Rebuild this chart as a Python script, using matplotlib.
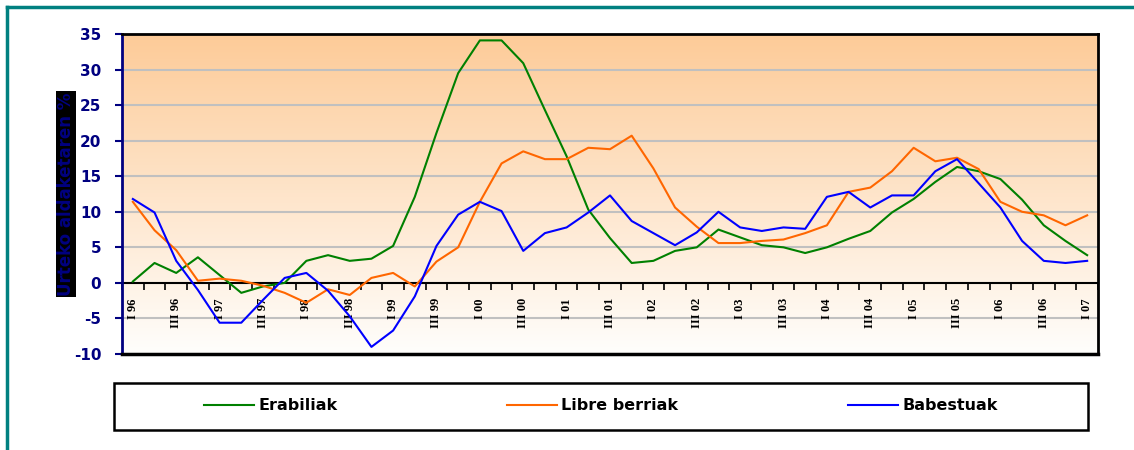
"""
Urteko aldaketa (%) - Erabiliak / Libre berriak / Babestuak, 1996-2007.
"""

import numpy as np
import matplotlib
matplotlib.use("Agg")
import matplotlib.pyplot as plt
from matplotlib.lines import Line2D
from matplotlib.patches import Rectangle

plt.rcParams["axes.unicode_minus"] = False

# quarterly series, I 96 .. I 07
quarters = []
for yy in ["96", "97", "98", "99", "00", "01", "02", "03", "04", "05", "06"]:
    for q in ["I", "II", "III", "IV"]:
        quarters.append(f"{q} {yy}")
quarters.append("I 07")

erabiliak = [0.2, 2.8, 1.4, 3.6, 1.1, -1.4, -0.5, 0.0, 3.1, 3.9, 3.1, 3.4, 5.2,
             12.1, 21.1, 29.5, 34.1, 34.1, 30.9, 24.3, 17.8, 10.3, 6.3, 2.8, 3.1,
             4.5, 5.0, 7.5, 6.4, 5.3, 5.0, 4.2, 5.0, 6.2, 7.3, 9.9, 11.8, 14.2,
             16.3, 15.7, 14.6, 11.7, 8.1, 5.9, 3.9]
libre_berriak = [11.4, 7.4, 4.6, 0.3, 0.6, 0.3, -0.4, -1.4, -2.8, -0.9, -1.7, 0.7,
                 1.4, -0.5, 3.0, 5.0, 11.4, 16.8, 18.5, 17.4, 17.4, 19.0, 18.8,
                 20.7, 16.1, 10.6, 7.9, 5.6, 5.6, 5.9, 6.1, 7.0, 8.1, 12.8, 13.4,
                 15.7, 19.0, 17.1, 17.6, 16.0, 11.4, 10.0, 9.5, 8.1, 9.5]
babestuak = [11.8, 9.9, 3.1, -1.0, -5.6, -5.6, -2.4, 0.7, 1.4, -1.1, -4.7, -9.0,
             -6.7, -1.9, 5.2, 9.6, 11.4, 10.1, 4.5, 7.0, 7.8, 9.9, 12.3, 8.7, 7.0,
             5.3, 7.1, 10.0, 7.8, 7.3, 7.8, 7.6, 12.1, 12.8, 10.6, 12.3, 12.3,
             15.7, 17.4, 14.0, 10.6, 5.9, 3.1, 2.8, 3.1]

series = [("Erabiliak", erabiliak, "#008000"),
          ("Libre berriak", libre_berriak, "#FF6600"),
          ("Babestuak", babestuak, "#0000FF")]

NAVY = "#000080"
W, H = 1134, 450

fig = plt.figure(figsize=(W / 100, H / 100), dpi=100)
ax = fig.add_axes([122 / W, 1 - 354 / H, 976 / W, 320 / H])

n = len(quarters)
x = np.arange(n)
ax.set_xlim(-0.5, n - 0.5)
ax.set_ylim(-10, 35)

# peach -> white background gradient
top = np.array([253, 203, 152]) / 255
bot = np.array([255, 254, 252]) / 255
t = np.linspace(0, 1, 256)[:, None]
grad = (top * (1 - t) + bot * t)[:, None, :]
ax.imshow(grad, extent=(-0.5, n - 0.5, -10, 35), aspect="auto", zorder=0,
          origin="upper")

for yv in range(-5, 36, 5):
    if yv != 0:
        ax.axhline(yv, color="#C0C0C0", lw=1.5, zorder=1)

for name, vals, col in series:
    ax.plot(x, vals, color=col, lw=1.5, label=name, zorder=3)

# frame
ax.spines["bottom"].set_position(("data", 0))
ax.spines["bottom"].set_color("black")
ax.spines["bottom"].set_linewidth(1.5)
ax.spines["bottom"].set_zorder(2)
ax.spines["left"].set_color(NAVY)
ax.spines["left"].set_linewidth(2)
for s in ["top", "right"]:
    ax.spines[s].set_color("black")
    ax.spines[s].set_linewidth(2)
ax.axhline(-10, color="black", lw=2.5, zorder=4, clip_on=False)

ax.set_yticks(range(-10, 36, 5))
ax.tick_params(axis="y", colors=NAVY, length=5, width=1.5, pad=10,
               labelsize=11)
for lab in ax.get_yticklabels():
    lab.set_fontweight("bold")
    lab.set_family("DejaVu Sans")

ax.set_xticks(np.arange(-0.5, n, 1.0))
ax.set_xticklabels([])
ax.tick_params(axis="x", which="major", direction="out", length=5, width=1.2,
               color="black")
ax.set_xticks(x[::2], minor=True)
ax.set_xticklabels(quarters[::2], minor=True, rotation=90, fontsize=9,
                   family="Liberation Serif", fontweight="bold", va="top")
ax.tick_params(axis="x", which="minor", length=0, pad=11)

fig.text(66 / W, 1 - 194 / H, "Urteko aldaketaren %", rotation=90,
         ha="center", va="center", color=NAVY, fontsize=12, fontweight="bold",
         family="DejaVu Sans",
         bbox=dict(facecolor="black", edgecolor="none", pad=1))

# legend box
fig.add_artist(Rectangle((114 / W, 1 - 430 / H), 974 / W, 47 / H,
                         transform=fig.transFigure, fill=False,
                         edgecolor="black", lw=1.8))
fs = 11.5
px = fs * 100 / 72
handles = [Line2D([], [], color=c, lw=1.5) for _, _, c in series]
leg = fig.legend(handles, [s[0] for s in series], loc="center",
                 bbox_to_anchor=(601 / W, 1 - 406 / H), ncol=3, frameon=False,
                 handlelength=50 / px, handletextpad=4 / px,
                 columnspacing=170 / px,
                 prop=dict(family="DejaVu Sans", weight="bold", size=fs))

# teal page border
fig.add_artist(Line2D([7 / W, 7 / W], [0, 1 - 7 / H], color="#008080", lw=2.5,
                      transform=fig.transFigure))
fig.add_artist(Line2D([7 / W, 1], [1 - 7 / H, 1 - 7 / H], color="#008080",
                      lw=2.5, transform=fig.transFigure))

fig.savefig("out.png", dpi=100)
